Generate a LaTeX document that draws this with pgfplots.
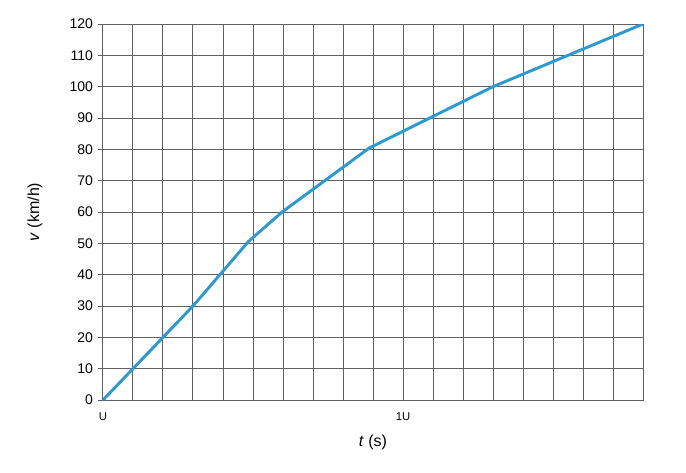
\documentclass[border=0pt]{standalone}
\usepackage{fontspec}
\setmainfont{Liberation Sans}
\usepackage{pgfplots}
\pgfplotsset{compat=1.18}
\definecolor{lineblue}{HTML}{2B9AD2}
\definecolor{gridgray}{HTML}{606060}
\begin{document}
\begin{tikzpicture}
\path[use as bounding box] (-77.25pt,-54pt) rectangle (437.25pt,300pt);
\begin{axis}[
  at={(0,0)}, anchor=origin,
  scale only axis,
  width=405pt, height=282pt,
  xmin=0, xmax=18, ymin=0, ymax=120,
  xtick={0,1,...,18},
  xticklabels={U,,,,,,,,,,1U,,,,,,,,},
  ytick={0,10,...,120},
  grid=major,
  major grid style={gridgray, line width=0.75pt},
  axis line style={gridgray, line width=0.75pt},
  x tick label style={font=\fontsize{8.5}{10}\selectfont, yshift=-2pt},
  y tick label style={font=\fontsize{10.5}{12}\selectfont},
  /pgf/number format/assume math mode=true,
  ytick pos=left,
  xtick pos=bottom,
  tick align=outside,
  x tick style={draw=none},
  y tick style={gridgray, line width=0.75pt},
  major tick length=4pt,
  xlabel={\fontsize{12}{14}\selectfont\textit{t} (s)},
  ylabel={\fontsize{12}{14}\selectfont\textit{v} (km/h)},
  xlabel style={at={(axis description cs:0.5,-0.1135)}, anchor=center},
  ylabel style={at={(axis description cs:-0.126,0.5)}, anchor=center},
]
\addplot[lineblue, line width=2.2pt, line join=round] coordinates {
  (0,0) (3,30) (4.84,50.5) (5.97,60) (8.87,80.4) (13,100) (18,120)
};
\end{axis}
\end{tikzpicture}
\end{document}
